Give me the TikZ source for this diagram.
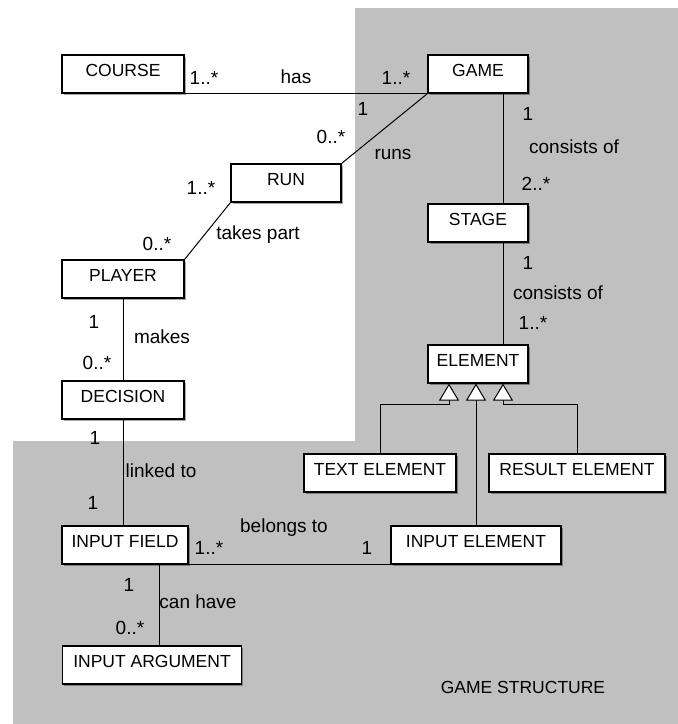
\documentclass[tikz,border=0pt]{standalone}
\usepackage{fontspec}
\setmainfont{Liberation Sans}
\usetikzlibrary{arrows.meta,shadows}
\definecolor{pkggray}{HTML}{C0C0C0}
\tikzset{
  cls/.style={draw, fill=white, line width=1.2pt, inner xsep=0pt, inner ysep=8pt,
    text height=13pt, text depth=9pt, minimum width=#1,
    drop shadow={shadow xshift=1.5pt, shadow yshift=-1.5pt, opacity=0.35, fill=black}},
  lab/.style={inner sep=0pt, text height=13.6pt, text depth=0pt, font=\fontsize{19}{22}\selectfont},
  isa/.style={-{Triangle[fill=white, length=17pt, width=20pt]}},
}
\begin{document}
\begin{tikzpicture}[x=1pt, y=-1pt, line width=1pt, font=\fontsize{17.5}{20}\selectfont]
\useasboundingbox (0,0) rectangle (678,724);

% game structure package
\fill[pkggray] (355,8) -- (678,8) -- (678,724) -- (13,724) -- (13,441) -- (355,441) -- cycle;
\node (pkg) at (523,687) {GAME STRUCTURE};

\node (course) [cls=122pt] at (123,74) {COURSE};
\node (game) [cls=100pt] at (478,74) {GAME};
\node (run) [cls=110pt] at (286,183) {RUN};
\node (stage) [cls=100pt] at (478,223) {STAGE};
\node (player) [cls=122pt] at (123,279) {PLAYER};
\node (element) [cls=100pt] at (478,364) {ELEMENT};
\node (decision) [cls=122pt] at (123,400) {DECISION};
\node (textel) [cls=152pt] at (380,473) {TEXT ELEMENT};
\node (resultel) [cls=176pt] at (577,473) {RESULT ELEMENT};
\node (field) [cls=126pt] at (125,545) {INPUT FIELD};
\node (inputel) [cls=170pt] at (476,545) {INPUT ELEMENT};
\node (argument) [cls=179pt] at (152,665) {INPUT ARGUMENT};

\draw (course.south east) -- (game.south west);
\draw (game.south west) -- (run.north east);
\draw (run.south west) -- (player.north east);
\draw ([xshift=25pt]game.south) -- ([xshift=25pt]stage.north);
\draw ([xshift=25pt]stage.south) -- ([xshift=25pt]element.north);
\draw (player.south) -- (decision.north);
\draw (decision.south) -- (decision.south |- field.north);
\draw (field.south east) -- (inputel.south west);
\draw ([xshift=34pt]field.south) -- ([xshift=34pt]field.south |- argument.north);

\draw[isa] (textel.north) -- ++(0,-49) -| ([xshift=-29pt]element.south);
\draw[isa] (inputel.north) -- (inputel.north |- element.south);
\draw[isa] (resultel.north) -- ++(0,-49) -| ([xshift=25pt]element.south);

% multiplicities and roles
\node (hasA) [lab] at (204,78) {1..*};
\node (has) [lab] at (296,77) {has};
\node (hasB) [lab] at (396,78) {1..*};
\node (runsA) [lab] at (363,109) {1};
\node (runsB) [lab] at (331,137) {0..*};
\node (runs) [lab] at (393,153) {runs};
\node (partA) [lab] at (201,188) {1..*};
\node (part) [lab] at (258,233) {takes part};
\node (partB) [lab] at (157,244) {0..*};
\node (consA) [lab] at (528,114) {1};
\node (cons) [lab] at (574,147) {consists of};
\node (consB) [lab] at (536,184) {2..*};
\node (elemA) [lab] at (528,263) {1};
\node (elem) [lab] at (558,293) {consists of};
\node (elemB) [lab] at (533,323) {1..*};
\node (makesA) [lab] at (94,322) {1};
\node (makes) [lab] at (162,337) {makes};
\node (makesB) [lab] at (97,363) {0..*};
\node (linkA) [lab] at (95,438) {1};
\node (link) [lab] at (161,471) {linked to};
\node (linkB) [lab] at (93,503) {1};
\node (belongs) [lab] at (284,526) {belongs to};
\node (belongsA) [lab] at (209,548) {1..*};
\node (belongsB) [lab] at (367,548) {1};
\node (haveA) [lab] at (129,585) {1};
\node (have) [lab] at (198,602) {can have};
\node (haveB) [lab] at (130,628) {0..*};
\end{tikzpicture}
\end{document}
